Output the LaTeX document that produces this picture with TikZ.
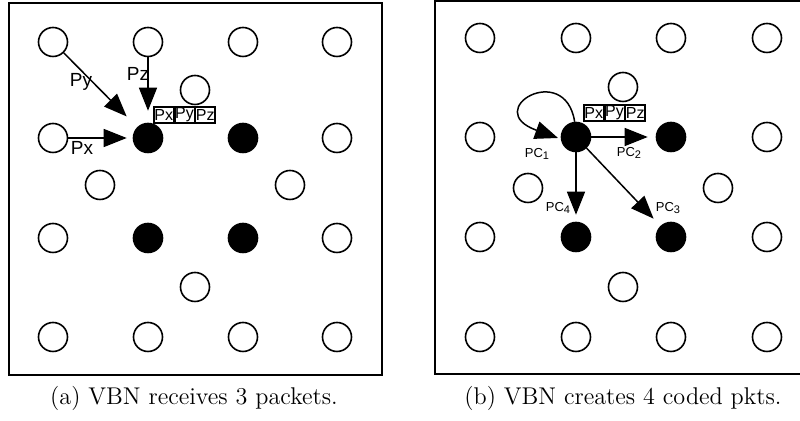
\documentclass[tikz,border=0pt]{standalone}
\usepackage{fontspec}
\newfontfamily\hv{Liberation Sans}
\usetikzlibrary{arrows.meta}
\newcommand{\pcsub}[1]{\raisebox{-0.4ex}{\fontsize{5.5}{6}\selectfont #1}}
\begin{document}
\begin{tikzpicture}[x=0.5pt,y=-0.5pt,
 nd/.style={circle,draw,line width=0.8pt,minimum size=14.5pt,inner sep=0pt},
 fd/.style={nd,fill=black},
 pk/.style={draw,line width=0.7pt,minimum width=9.7pt,minimum height=8pt,inner sep=0pt,font=\hv\fontsize{8}{8}\selectfont},
 ar/.style={line width=0.75pt,-{Triangle[length=11.5pt,width=9pt]}},
 lb/.style={font=\hv\fontsize{9.5}{10}\selectfont,inner sep=0pt},
 pc/.style={font=\hv\fontsize{6.5}{7}\selectfont,inner sep=0pt},
 captxt/.style={font=\fontsize{12.1}{14}\selectfont,inner sep=0pt},
 frame/.style={line width=0.9pt}]
\useasboundingbox (0,0) rectangle (800,421);
\clip (0,0) rectangle (800,421);
% ---------- panel (a)
\draw[frame] (9,3) rectangle (382,375);
\foreach \n/\x/\y/\s in {a11/53/42/nd,a12/148/42/nd,a13/243/42/nd,a14/337/42/nd,
  a21/53/138/nd,a22/148/138/fd,a23/243/138/fd,a24/337/138/nd,
  a31/53/238/nd,a32/148/238/fd,a33/243/238/fd,a34/337/238/nd,
  a41/53/337/nd,a42/148/337/nd,a43/243/337/nd,a44/337/337/nd,
  ae1/100/185/nd,ae2/290/185/nd,ae3/195/287/nd,ae4/195/90/nd}
  \node[\s] (\n) at (\x,\y) {};
\node[pk] (apx) at (163.7,115) {Px};
\node[pk,anchor=west] (apy) at (apx.east) {Py};
\node[pk,anchor=west] (apz) at (apy.east) {Pz};
\draw[ar,shorten >=7.5pt] (a11) -- (a22);
\draw[ar,shorten >=6pt] (a12) -- (a22);
\draw[ar,shorten >=3pt] (a21) -- (a22);
\node[lb] (lpy) at (81,82) {Py};
\node[lb] (lpz) at (138,74) {Pz};
\node[lb] (lpx) at (82,148) {Px};
\node[captxt] (capa) at (194,398) {(a) VBN receives 3 packets.};
% ---------- panel (b)
\draw[frame] (435,1) rectangle (810,374);
\foreach \n/\x/\y/\s in {b11/480/38/nd,b12/576/38/nd,b13/671/38/nd,b14/767/38/nd,
  b21/480/137/nd,b22/576/137/fd,b23/671/137/fd,b24/767/137/nd,
  b31/480/237/nd,b32/576/237/fd,b33/671/237/fd,b34/767/237/nd,
  b41/480/337/nd,b42/576/337/nd,b43/671/337/nd,b44/767/337/nd,
  be1/528/188/nd,be2/718/188/nd,be3/623/287/nd,be4/623/87/nd}
  \node[\s] (\n) at (\x,\y) {};
\node[pk] (bpx) at (593.7,113) {Px};
\node[pk,anchor=west] (bpy) at (bpx.east) {Py};
\node[pk,anchor=west] (bpz) at (bpy.east) {Pz};
\coordinate (lpend) at (558,138);
\draw[ar] (b22.95) .. controls (565,60) and (480,110) .. (lpend);
\draw[ar,shorten >=4pt] (b22) -- (b23);
\draw[ar,shorten >=5pt] (b22) -- (b33);
\draw[ar,shorten >=3.5pt] (b22) -- (b32);
\node[pc] (l1) at (537,154) {PC\pcsub{1}};
\node[pc] (l2) at (629,153) {PC\pcsub{2}};
\node[pc] (l4) at (558,208) {PC\pcsub{4}};
\node[pc] (l3) at (668,208) {PC\pcsub{3}};
\node[captxt] (capb) at (623,398) {(b) VBN creates 4 coded pkts.};
\end{tikzpicture}
\end{document}
